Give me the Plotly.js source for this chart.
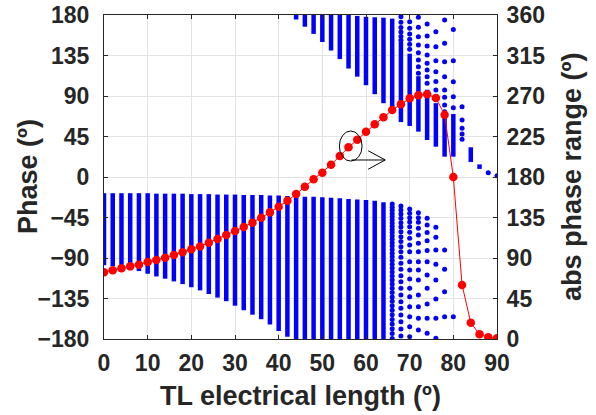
<!DOCTYPE html>
<html>
<head>
<meta charset="utf-8">
<script src="https://cdn.plot.ly/plotly-3.0.1.min.js"></script>
<style>html,body{margin:0;padding:0;background:#fff;}#plot{width:596px;height:415px;}</style>
</head>
<body>
<div id="plot"></div>
<script>
// TL electrical length (deg), one column of phases every 2 deg
const xCols = [0,2,4,6,8,10,12,14,16,18,20,22,24,26,28,30,32,34,36,38,40,42,44,46,48,50,52,54,56,58,60,62,64,66,68,70,72,74,76,78,80,82,84,86,88,90];

// abs phase range (right axis)
const absRange = [74.1,76.3,78.5,80.7,82.6,85.6,87.8,90.4,93.3,96.3,99.6,102.9,107,111.1,115.6,120,124.4,129.3,134.8,140.7,147,153.5,161,169.2,177.5,184.8,193.7,203.3,213,221.4,230.3,238.5,246.3,254.4,260.8,267.4,270.7,271.9,267.8,249.2,180,60,18.1,5.2,1.9,0.8];

// dense part of the lower phase band (deg): top and bottom of each column
const lowTop = [-18,-18,-18,-18,-18,-18,-18.5,-18.5,-18.5,-18.5,-19,-19,-19,-19.5,-19.5,-19.5,-20,-20,-20,-20.5,-20.5,-21,-21.5,-22,-22,-22.5,-23,-23.5,-24.5,-25,-25.5,-26.5,-28,null,null,null,null,null,null,null,null,null,null,null,null,null];
const lowBot = [-98,-99,-100,-102,-104.5,-107.5,-110.5,-113,-116,-119,-122.5,-126,-130,-134,-138,-143,-148,-153,-158,-164,-171,-177.5,-180,-180,-180,-180,-180,-180,-180,-180,-180,-180,-180,null,null,null,null,null,null,null,null,null,null,null,null,null];

// dense part of the upper phase band (deg)
const upTop = [null,null,null,null,null,null,null,null,null,null,null,null,null,null,null,null,null,null,null,null,null,null,180,180,180,180,180,180,180,179,178,177.5,177,176,150,137,112,97,82,67,70,null,33,14,null,null];
const upBot = [null,null,null,null,null,null,null,null,null,null,null,null,null,null,null,null,null,null,null,null,null,null,175,167,159,150,140.5,131,120.5,111.5,102,92,82,72,61,56.7,50.4,41.1,33.7,22.6,22.6,null,16.7,9,null,null];

// individually visible phase samples (deg)
const sparseX = [66,68,70,72,74,76,78,80,82,88,90];
const sparseLow = [
  [-30,-33.5,-37,-40.5,-44,-47.5,-51,-54.6,-58.2,-61.8,-65.5,-69.2,-73,-76.8,-80.7,-84.7,-88.7,-92.8,-97,-101.2,-105.5,-110,-114.5,-119,-123.7,-128.4,-133.2,-138.1,-143,-148,-153,-158.2,-163.4,-168.7,-174,-179.4],
  [-32.2,-36.7,-41.1,-45.9,-50.7,-55.6,-60.7,-66.3,-71.8,-77.4,-83,-89.3,-95.9,-102.6,-109.6,-116.3,-123.7,-131.1,-138.5,-145.9,-153.3,-160.7,-168.9,-176.7],
  [-35.6,-40.4,-45.2,-50,-55.2,-61.5,-68.1,-75.6,-83,-94.1,-103.3,-113.3,-123.7,-133,-144.1,-155.2,-166.3,-177.4],
  [-39.6,-45.2,-50.4,-57,-64.4,-73.7,-83,-94.1,-103.3,-114.4,-131.1,-144.1,-157,-170],
  [-45.9,-53.3,-61.8,-70.7,-81.8,-94.1,-108.9,-123.7,-141.1,-157,-173.7],
  [-55.9,-67,-81.1,-97,-114.4,-135.6,-157,-179.3],
  [-81.1,-102.6,-127.4,-155.2],
  [-155.2],
  [],[],[]
];
const sparseUp = [
  [],
  [178,172,166,161,156,152],
  [172.6,165.2,158.9,153,147.4,141.9],
  [177.4,166.3,155.9,146.7,138.1,130,122.6,115.2],
  [170,156.7,145.6,135.6,126.3,118.9,111.5,104.1],
  [161.5,144.8,129.3,117,106,96.7,89.3],
  [174.4,148.5,128.1,111.5,96.7,88.5,80,72.6],
  [164,129.3,105.9,89.3,77],
  [78.1,63.4,54.1,47.8,42],
  [4.8],
  [1.5]
];

const lx = [], ly = [];
for (let i = 0; i < xCols.length; i++) {
  if (lowTop[i] !== null) { lx.push(xCols[i], xCols[i], null); ly.push(lowTop[i], lowBot[i], null); }
  if (upTop[i] !== null) { lx.push(xCols[i], xCols[i], null); ly.push(upTop[i], upBot[i], null); }
}
const dx = [], dy = [];
for (let j = 0; j < sparseX.length; j++) {
  sparseLow[j].forEach(v => { dx.push(sparseX[j]); dy.push(v); });
  sparseUp[j].forEach(v => { dx.push(sparseX[j]); dy.push(v); });
}

const blue = '#0000ff';
const axisCol = '#262626';
const fam = 'Liberation Sans, Arial, sans-serif';
const tickFont = {family: fam, size: 23, color: axisCol, weight: 'bold'};
const titleFont = {family: fam, size: 27, color: axisCol, weight: 'bold'};

const traces = [
  {x: lx, y: ly, type: 'scatter', mode: 'lines', line: {color: blue, width: 4.5}, hoverinfo: 'skip', showlegend: false},
  {x: dx, y: dy, type: 'scatter', mode: 'markers', marker: {color: blue, size: 5}, showlegend: false},
  {x: xCols, y: absRange, type: 'scatter', mode: 'lines+markers', yaxis: 'y2',
   line: {color: '#ff0000', width: 1}, marker: {color: '#ff0000', size: 8.5}, showlegend: false}
];

const layout = {
  width: 596, height: 415,
  margin: {l: 104, r: 99, t: 15, b: 76},
  paper_bgcolor: '#fff', plot_bgcolor: '#fff',
  font: tickFont,
  showlegend: false,
  xaxis: {
    range: [0, 90], tickvals: [0,10,20,30,40,50,60,70,80,90],
    showgrid: true, gridcolor: '#e3e3e3', gridwidth: 1, zeroline: false,
    showline: true, linecolor: axisCol, linewidth: 1, mirror: 'ticks',
    ticks: 'inside', ticklen: 4, tickcolor: axisCol,
    tickfont: tickFont, ticklabelstandoff: 3
  },
  yaxis: {
    range: [-180, 180], tickvals: [-180,-135,-90,-45,0,45,90,135,180],
    showgrid: true, gridcolor: '#e3e3e3', gridwidth: 1, zeroline: false,
    showline: true, linecolor: axisCol, linewidth: 1,
    ticks: 'inside', ticklen: 4, tickcolor: axisCol,
    tickfont: tickFont, ticklabelstandoff: 9
  },
  yaxis2: {
    overlaying: 'y', side: 'right', range: [0, 360], tickvals: [0,45,90,135,180,225,270,315,360],
    showgrid: false, zeroline: false,
    showline: true, linecolor: axisCol, linewidth: 1,
    ticks: 'inside', ticklen: 4, tickcolor: axisCol,
    tickfont: tickFont, ticklabelstandoff: 4
  },
  annotations: [
    {text: 'TL electrical length (º)', xref: 'paper', yref: 'paper', x: 0.5, y: 0, yshift: -57,
     xanchor: 'center', yanchor: 'middle', showarrow: false, font: titleFont},
    {text: 'Phase (º)', xref: 'paper', yref: 'paper', x: 0, y: 0.5, xshift: -76, textangle: -90,
     xanchor: 'center', yanchor: 'middle', showarrow: false, font: titleFont},
    {text: 'abs phase range (º)', xref: 'paper', yref: 'paper', x: 1, y: 0.5, xshift: 75, textangle: -90,
     xanchor: 'center', yanchor: 'middle', showarrow: false, font: titleFont}
  ],
  shapes: [
    {type: 'circle', xref: 'x', yref: 'y', x0: 53.9, x1: 59.1, y0: 17.7, y1: 51.1, line: {color: '#000', width: 1}},
    {type: 'line', xref: 'x', yref: 'y', x0: 56.7, y0: 18.9, x1: 64.4, y1: 18.9, line: {color: '#000', width: 1}},
    {type: 'line', xref: 'x', yref: 'y', x0: 60.5, y0: 29.2, x1: 64.4, y1: 18.9, line: {color: '#000', width: 1}},
    {type: 'line', xref: 'x', yref: 'y', x0: 60.5, y0: 8.6, x1: 64.4, y1: 18.9, line: {color: '#000', width: 1}}
  ]
};

Plotly.newPlot('plot', traces, layout, {displayModeBar: false, staticPlot: true});
</script>
</body>
</html>
